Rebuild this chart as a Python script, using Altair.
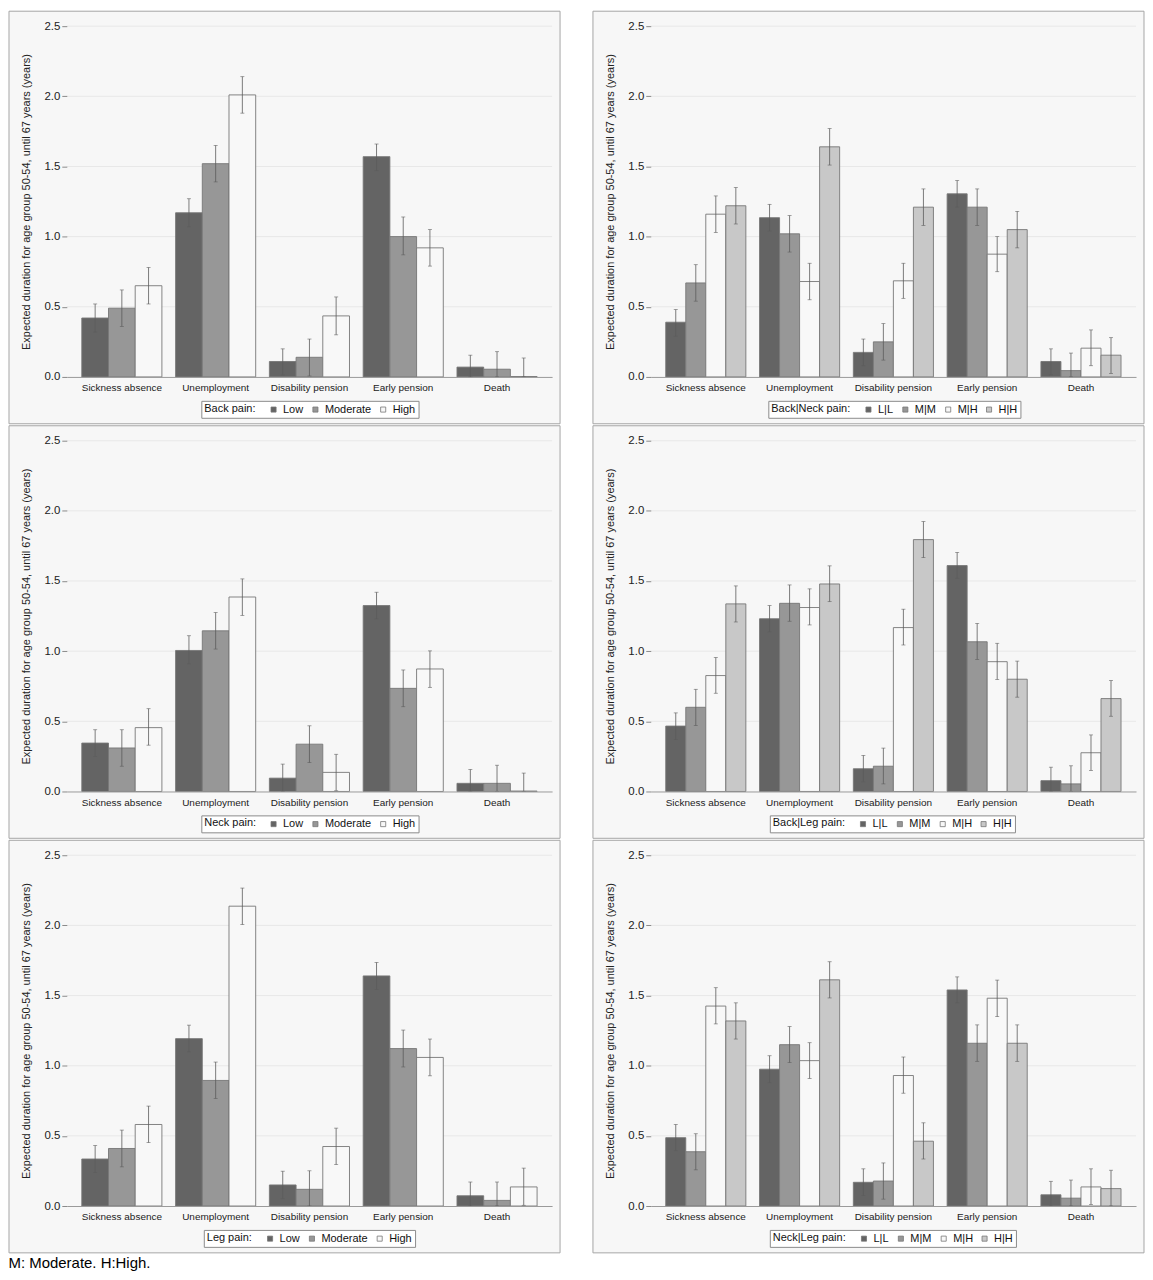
import altair as alt
import pandas as pd

OUTCOMES = ["Sickness absence", "Unemployment", "Disability pension", "Early pension", "Death"]
SINGLE_LEVELS = ["Low", "Moderate", "High"]
PAIR_LEVELS = ["L|L", "M|M", "M|H", "H|H"]

# ---- Back pain (rows: Low, Moderate, High; columns follow OUTCOMES)
BACK_EST = [[0.42, 1.17, 0.11, 1.57, 0.07],
            [0.49, 1.52, 0.14, 1.00, 0.055],
            [0.65, 2.01, 0.435, 0.92, 0.003]]
BACK_LO = [[0.32, 1.07, 0.014, 1.47, 0.0],
           [0.36, 1.39, 0.007, 0.87, 0.0],
           [0.52, 1.88, 0.30, 0.79, 0.0]]
BACK_HI = [[0.52, 1.27, 0.20, 1.66, 0.155],
           [0.62, 1.65, 0.27, 1.14, 0.18],
           [0.78, 2.14, 0.57, 1.05, 0.135]]

# ---- Back|Neck pain (rows: L|L, M|M, M|H, H|H)
BACKNECK_EST = [[0.39, 1.135, 0.175, 1.305, 0.11],
                [0.67, 1.02, 0.25, 1.21, 0.045],
                [1.16, 0.68, 0.685, 0.875, 0.205],
                [1.22, 1.64, 1.21, 1.05, 0.155]]
BACKNECK_LO = [[0.29, 1.04, 0.08, 1.21, 0.015],
               [0.54, 0.89, 0.12, 1.08, 0.0],
               [1.03, 0.55, 0.56, 0.75, 0.08],
               [1.09, 1.51, 1.08, 0.92, 0.025]]
BACKNECK_HI = [[0.48, 1.23, 0.27, 1.40, 0.20],
               [0.80, 1.15, 0.38, 1.34, 0.17],
               [1.29, 0.81, 0.81, 1.00, 0.335],
               [1.35, 1.77, 1.34, 1.18, 0.28]]

# ---- Neck pain
NECK_EST = [[0.345, 1.005, 0.095, 1.325, 0.058],
            [0.31, 1.145, 0.337, 0.735, 0.058],
            [0.455, 1.386, 0.136, 0.873, 0.003]]
NECK_LO = [[0.25, 0.91, 0.0, 1.23, 0.0],
           [0.18, 1.015, 0.206, 0.604, 0.0],
           [0.33, 1.255, 0.005, 0.742, 0.0]]
NECK_HI = [[0.44, 1.11, 0.195, 1.42, 0.157],
           [0.44, 1.275, 0.468, 0.866, 0.187],
           [0.59, 1.515, 0.265, 1.002, 0.131]]

# ---- Back|Leg pain
BACKLEG_EST = [[0.466, 1.231, 0.162, 1.61, 0.077],
               [0.60, 1.341, 0.18, 1.067, 0.054],
               [0.826, 1.311, 1.168, 0.925, 0.276],
               [1.337, 1.479, 1.795, 0.80, 0.662]]
BACKLEG_LO = [[0.37, 1.138, 0.068, 1.519, 0.0],
              [0.47, 1.213, 0.054, 0.941, 0.0],
              [0.70, 1.187, 1.044, 0.798, 0.15],
              [1.208, 1.353, 1.667, 0.672, 0.536]]
BACKLEG_HI = [[0.56, 1.325, 0.257, 1.704, 0.173],
              [0.728, 1.472, 0.309, 1.198, 0.183],
              [0.955, 1.444, 1.299, 1.056, 0.403],
              [1.465, 1.608, 1.924, 0.929, 0.791]]

# ---- Leg pain
LEG_EST = [[0.335, 1.193, 0.15, 1.64, 0.073],
           [0.41, 0.895, 0.119, 1.122, 0.04],
           [0.581, 2.137, 0.424, 1.059, 0.136]]
LEG_LO = [[0.239, 1.099, 0.052, 1.544, 0.0],
          [0.279, 0.766, 0.0, 0.991, 0.0],
          [0.452, 2.006, 0.295, 0.928, 0.005]]
LEG_HI = [[0.431, 1.289, 0.248, 1.736, 0.171],
          [0.541, 1.026, 0.251, 1.254, 0.171],
          [0.712, 2.266, 0.555, 1.19, 0.27]]

# ---- Neck|Leg pain
NECKLEG_EST = [[0.487, 0.975, 0.169, 1.54, 0.08],
               [0.387, 1.15, 0.178, 1.16, 0.056],
               [1.425, 1.036, 0.93, 1.481, 0.136],
               [1.319, 1.612, 0.462, 1.16, 0.124]]
NECKLEG_LO = [[0.394, 0.879, 0.075, 1.448, 0.0],
              [0.258, 1.022, 0.049, 1.031, 0.0],
              [1.298, 0.909, 0.804, 1.35, 0.01],
              [1.19, 1.483, 0.335, 1.031, 0.0]]
NECKLEG_HI = [[0.581, 1.071, 0.265, 1.633, 0.176],
              [0.515, 1.279, 0.307, 1.291, 0.185],
              [1.556, 1.164, 1.062, 1.61, 0.265],
              [1.448, 1.741, 0.593, 1.291, 0.255]]

Y_TICKS = [0.0, 0.5, 1.0, 1.5, 2.0, 2.5]
Y_TITLE = "Expected duration for age group 50-54, until 67 years (years)"
FOOTNOTE = "M: Moderate. H:High."

COLORS3 = ["#646464", "#979797", "#f8f8f8"]
COLORS4 = ["#646464", "#979797", "#f8f8f8", "#c8c8c8"]

W, H = 487, 352
PANEL_BG = "#f7f7f7"
FONT = "Liberation Sans"


def panel(title, levels, est, lo, hi, colors, legend_w):
    rows = []
    for gi, g in enumerate(levels):
        for oi, o in enumerate(OUTCOMES):
            rows.append({"outcome": o, "group": g, "est": est[gi][oi],
                         "lo": lo[gi][oi], "hi": hi[gi][oi]})
    df = pd.DataFrame(rows)

    xenc = alt.X("outcome:N", sort=OUTCOMES,
                 scale=alt.Scale(paddingInner=0.146, paddingOuter=0.16),
                 axis=alt.Axis(title=None, labelAngle=0, ticks=False, domain=True,
                               domainColor="#9a9a9a", domainWidth=1,
                               labelFontSize=10, labelColor="#222222",
                               labelPadding=6, grid=False, zindex=1))
    xo = alt.XOffset("group:N", sort=levels,
                     scale=alt.Scale(domain=levels, paddingInner=0, paddingOuter=0))
    yscale = alt.Scale(domain=[0, 2.5], nice=False, zero=True)
    yaxis = alt.Axis(title=Y_TITLE, values=Y_TICKS, format=".1f", domain=False,
                     ticks=True, tickSize=5, tickColor="#8a8a8a", tickWidth=1,
                     labelFontSize=11.5, labelColor="#222222", labelPadding=2,
                     grid=False, zindex=1,
                     titleFontSize=11, titleFontWeight="normal", titleColor="#222222",
                     titlePadding=12)

    bg = alt.Chart(alt.Data(values=[{"k": 0}])).mark_rect(
        fill=PANEL_BG, stroke="#a6a6a6", strokeWidth=1
    ).encode(x=alt.value(-58), x2=alt.value(W + 8),
             y=alt.value(-15), y2=alt.value(H + 47))

    grid = alt.Chart(pd.DataFrame({"t": Y_TICKS[1:]})).mark_rule(
        color="#e8e8e8", strokeWidth=1
    ).encode(y=alt.Y("t:Q", scale=yscale, axis=yaxis))

    bars = alt.Chart(df).mark_bar(stroke="#777777", strokeWidth=0.9).encode(
        x=xenc, xOffset=xo,
        y=alt.Y("est:Q", scale=yscale, axis=yaxis),
        color=alt.Color("group:N", sort=levels,
                        scale=alt.Scale(domain=levels, range=colors),
                        legend=alt.Legend(
                            title=title, orient="none",
                            legendX=W / 2 - legend_w / 2, legendY=H + 24,
                            direction="horizontal", titleOrient="left",
                            titleBaseline="middle",
                            symbolType="square", symbolSize=26,
                            symbolStrokeColor="#777777", symbolStrokeWidth=0.8,
                            labelFontSize=11, titleFontSize=11,
                            titleFontWeight="normal", titleColor="#111111",
                            labelColor="#111111",
                            strokeColor="#8c8c8c", fillColor="#ffffff",
                            padding=3, columnPadding=6, labelOffset=4,
                            titlePadding=12, zindex=2)))

    rules = alt.Chart(df).mark_rule(color="#5c5c5c", strokeWidth=0.8).encode(
        x=xenc, xOffset=xo,
        y=alt.Y("lo:Q", scale=yscale, axis=yaxis), y2="hi:Q")
    cap_lo = alt.Chart(df).mark_tick(color="#5c5c5c", size=4, thickness=0.8).encode(
        x=xenc, xOffset=xo, y=alt.Y("lo:Q", scale=yscale, axis=yaxis))
    cap_hi = alt.Chart(df).mark_tick(color="#5c5c5c", size=4, thickness=0.8).encode(
        x=xenc, xOffset=xo, y=alt.Y("hi:Q", scale=yscale, axis=yaxis))

    return alt.layer(bg, grid, bars, rules, cap_lo, cap_hi).properties(width=W, height=H)


p1 = panel("Back pain:", SINGLE_LEVELS, BACK_EST, BACK_LO, BACK_HI, COLORS3, 217)
p2 = panel("Back|Neck pain:", PAIR_LEVELS, BACKNECK_EST, BACKNECK_LO, BACKNECK_HI, COLORS4, 251)
p3 = panel("Neck pain:", SINGLE_LEVELS, NECK_EST, NECK_LO, NECK_HI, COLORS3, 217)
p4 = panel("Back|Leg pain:", PAIR_LEVELS, BACKLEG_EST, BACKLEG_LO, BACKLEG_HI, COLORS4, 248)
p5 = panel("Leg pain:", SINGLE_LEVELS, LEG_EST, LEG_LO, LEG_HI, COLORS3, 212)
p6 = panel("Neck|Leg pain:", PAIR_LEVELS, NECKLEG_EST, NECKLEG_LO, NECKLEG_HI, COLORS4, 248)


def row(a, b):
    return alt.hconcat(a, b, spacing=31).resolve_scale(
        color="independent", xOffset="independent", x="independent", y="independent"
    ).resolve_legend(color="independent")


chart = alt.vconcat(row(p1, p2), row(p3, p4), row(p5, p6), spacing=0).resolve_scale(
    color="independent", xOffset="independent", x="independent", y="independent"
).resolve_legend(color="independent").properties(
    title=alt.TitleParams(FOOTNOTE, orient="bottom", anchor="start", fontSize=15,
                          fontWeight="normal", color="#000000", offset=3, font=FONT),
    padding=0, background="#ffffff"
).configure(font=FONT).configure_view(stroke=None, fill=None)

chart.save("out.html", embed_options={"renderer": "svg", "actions": False})
